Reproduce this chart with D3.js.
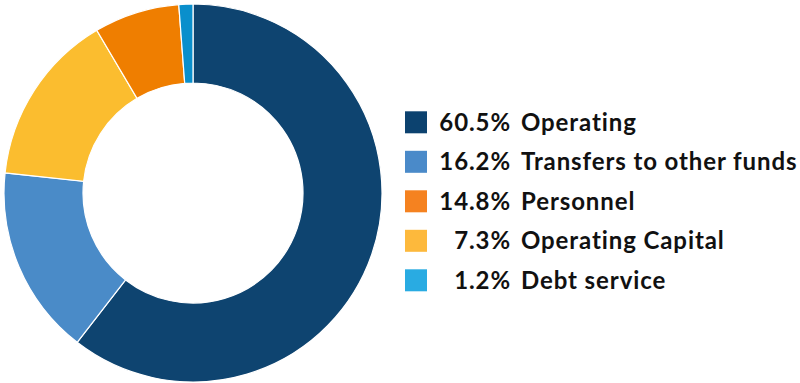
<!DOCTYPE html>
<html>
<head>
<meta charset="utf-8">
<script src="https://cdn.jsdelivr.net/npm/d3@7"></script>
<style>
  html, body { margin: 0; padding: 0; background: #fff; }
  svg { display: block; }
  text { font-family: Lato, "Open Sans", sans-serif; font-weight: 700; fill: #111; font-variant-ligatures: none; }
</style>
</head>
<body>
<svg id="chart" width="800" height="383"></svg>
<script>
// Budget categories and their share of the total (percent)
const categories = ["Operating", "Transfers to other funds", "Personnel", "Operating Capital", "Debt service"];
const values = [60.5, 16.2, 14.8, 7.3, 1.2];
const valueLabels = ["60.5%", "16.2%", "14.8%", "7.3%", "1.2%"];
// Ring colours (in slice order) and legend swatch colours
const sliceColors = ["#0e4470", "#4a8bc8", "#fbbd2f", "#ef7e00", "#0a8fcc"];
const legendColors = ["#0c426f", "#4a8ac9", "#f58220", "#fdb93c", "#29abe2"];

const svg = d3.select("#chart");

const cx = 193, cy = 193, outerR = 189, innerR = 110;

const pie = d3.pie().sort(null).value(d => d)(values);
const arc = d3.arc().innerRadius(innerR).outerRadius(outerR);

svg.append("g")
  .attr("transform", `translate(${cx},${cy})`)
  .selectAll("path")
  .data(pie)
  .join("path")
  .attr("d", arc)
  .attr("fill", (d, i) => sliceColors[i])
  .attr("stroke", "#fff")
  .attr("stroke-width", 1.2);

// Legend
const rowY = d3.scalePoint().domain(d3.range(categories.length)).range([122.3, 280.3]);
const legend = svg.append("g");
const rows = legend.selectAll("g").data(categories).join("g")
  .attr("transform", (d, i) => `translate(0,${rowY(i)})`);

rows.append("rect")
  .attr("x", 405).attr("y", -11)
  .attr("width", 22).attr("height", 22)
  .attr("fill", (d, i) => legendColors[i]);

rows.append("text")
  .attr("x", 511).attr("y", 8.5)
  .attr("text-anchor", "end")
  .attr("font-size", 24)
  .attr("letter-spacing", 0.9)
  .text((d, i) => valueLabels[i]);

rows.append("text")
  .attr("x", 521).attr("y", 8.5)
  .attr("font-size", 24)
  .attr("letter-spacing", 0.9)
  .text(d => d);
</script>
</body>
</html>
